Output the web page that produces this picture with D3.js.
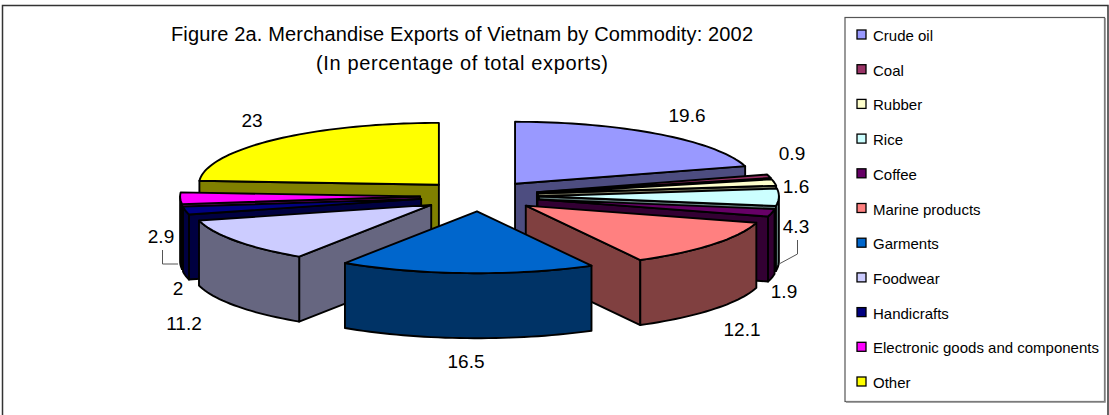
<!DOCTYPE html>
<html><head><meta charset="utf-8">
<script src="https://cdn.jsdelivr.net/npm/d3@7"></script>
<style>html,body{margin:0;padding:0;background:#fff}svg{display:block}text{font-family:"Liberation Sans",Arial,sans-serif;fill:#000}</style>
</head><body><script>
const categories=["Crude oil","Coal","Rubber","Rice","Coffee","Marine products","Garments","Foodwear","Handicrafts","Electronic goods and components","Other"];
const values=[19.6,0.9,1.6,4.3,1.9,12.1,16.5,11.2,2,2.9,23];
const colors=["#9999FF","#993366","#FFFFCC","#CCFFFF","#660066","#FF8080","#0066CC","#CCCCFF","#000080","#FF00FF","#FFFF00"];
const titleLines=["Figure 2a. Merchandise Exports of Vietnam by Commodity: 2002","(In percentage of total exports)"];
const labelPos=[[687,115],[792,153],[796,186],[796,226],[784,291],[742,329],[466,361],[184,323],[178,288],[161,236],[252,120]];
const W=1109,H=415,cx=479.5,cy=196,rx=240,tilt=0.258,explode=59.4,depth=65;
const svg=d3.select("body").append("svg").attr("width",W).attr("height",H);
svg.append("path").attr("d",`M2.5,${H}V5.5H1108V${H}`).attr("fill","none").attr("stroke","#333").attr("stroke-width",1.5);
titleLines.forEach((t,i)=>svg.append("text").attr("x",462).attr("y",[41,70][i]).attr("text-anchor","middle").attr("font-size",20).attr("textLength",[582,292][i]).attr("lengthAdjust","spacing").text(t));

const X=d3.scaleLinear().domain([-1,1]).range([-rx,rx]);
const Y=d3.scaleLinear().domain([-1,1]).range([-rx*tilt,rx*tilt]);
const line=d3.line();
const arcs=d3.pie().sort(null).value(d=>d)(values);
const g=svg.append("g").attr("transform",`translate(${cx},${cy})`);
const angles=(a0,a1)=>{const n=Math.max(2,Math.ceil((a1-a0)/0.03));return d3.range(n+1).map(i=>a0+(a1-a0)*i/n)};
const slices=arcs.map((a,i)=>{
  const mid=(a.startAngle+a.endAngle)/2;
  const ex=explode/rx;
  return {i,a,mid,ox:X(Math.sin(mid)*ex),oy:Y(-Math.cos(mid)*ex)};
}).sort((p,q)=>p.oy-q.oy);
const fill=(c,col,sw=1.9)=>g.append("path").attr("d",c).attr("fill",col).attr("stroke","#000").attr("stroke-width",sw).attr("stroke-linejoin","round");
slices.forEach(s=>{
  const {a,ox,oy,i}=s,col=colors[i],side=d3.rgb(col);
  const dark=d3.rgb(Math.round(side.r/2),Math.round(side.g/2),Math.round(side.b/2)).formatHex();
  const P=t=>[ox+X(Math.sin(t)),oy+Y(-Math.cos(t))];
  const apex=[ox,oy],down=p=>[p[0],p[1]+depth];
  const wall=t=>line([apex,P(t),down(P(t)),down(apex)])+"Z";
  if(Math.sin(a.startAngle)<-1e-6) fill(wall(a.startAngle),dark);
  if(Math.sin(a.endAngle)>1e-6) fill(wall(a.endAngle),dark);
  const lo=Math.max(a.startAngle,Math.PI/2),hi=Math.min(a.endAngle,3*Math.PI/2);
  if(hi>lo){const pts=angles(lo,hi).map(P);fill(line(pts.concat(pts.map(down).reverse()))+"Z",dark);}
  fill(line([apex].concat(angles(a.startAngle,a.endAngle).map(P)))+"Z",col);
});
values.forEach((v,i)=>svg.append("text").attr("x",labelPos[i][0]).attr("y",labelPos[i][1]+7).attr("text-anchor","middle").attr("font-size",19).text(v));
const leader=[[[162.5,250],[162.5,264],[178,264]],[[797.5,240],[797.5,254],[779,264]]];
leader.forEach(l=>svg.append("path").attr("d",line(l)).attr("fill","none").attr("stroke","#555").attr("stroke-width",1));

svg.append("rect").attr("x",845).attr("y",17.5).attr("width",259.5).attr("height",384).attr("fill","#fff").attr("stroke","#555").attr("stroke-width",1.2);
svg.append("path").attr("d","M1105,18V402H846").attr("fill","none").attr("stroke","#888").attr("stroke-width",1.5);
const ly=d3.scalePoint().domain(categories).range([35,382]);
categories.forEach((c,i)=>{
  svg.append("rect").attr("x",857).attr("y",ly(c)-5).attr("width",9).attr("height",9).attr("fill",colors[i]).attr("stroke","#000").attr("stroke-width",1.3);
  svg.append("text").attr("x",873).attr("y",ly(c)+6).attr("font-size",15).text(c);
});
</script></body></html>
